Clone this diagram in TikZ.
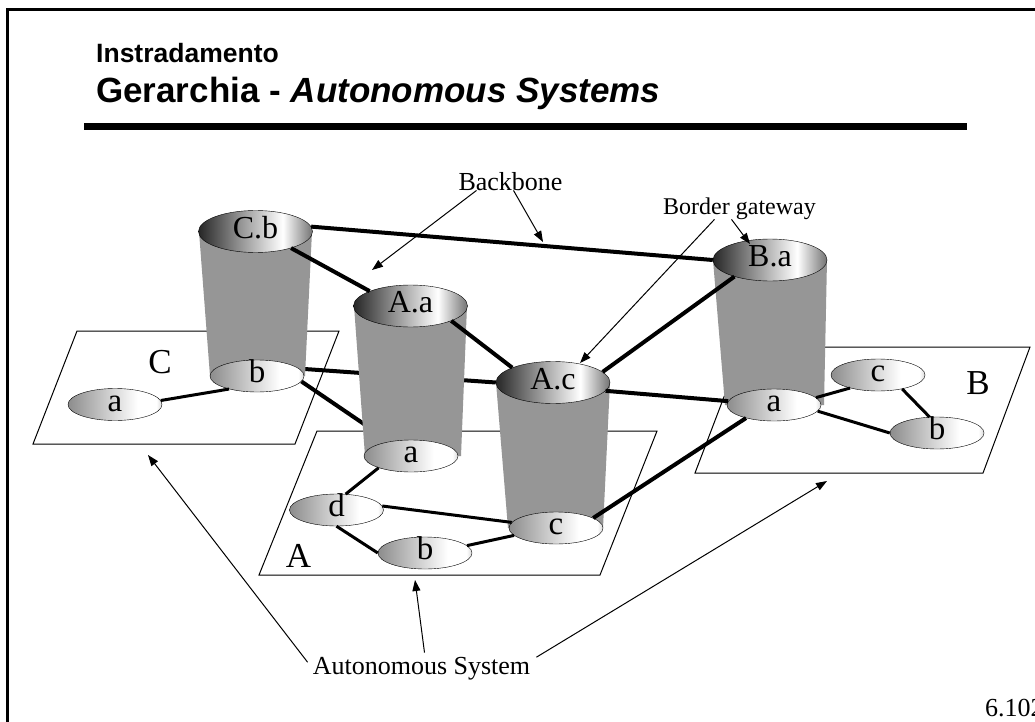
\documentclass[tikz,border=0pt]{standalone}
\usepackage{fontspec}
\setmainfont{Liberation Serif}
\newfontfamily\titlefont{Liberation Sans}
\usetikzlibrary{arrows.meta, shapes.geometric}

\definecolor{bodygray}{RGB}{150,150,150}
\pgfdeclarehorizontalshading{topshade}{100bp}{color(0bp)=(black!85); color(25bp)=(black!85); color(42bp)=(black!45); color(62bp)=(white); color(75bp)=(black!55); color(100bp)=(black!55)}
\pgfdeclarehorizontalshading{lowshade}{100bp}{color(0bp)=(black!45); color(25bp)=(black!45); color(62bp)=(white); color(72bp)=(white); color(75bp)=(black!15); color(100bp)=(black!15)}
\pgfdeclarelayer{planes}
\pgfdeclarelayer{hidden}
\pgfsetlayers{planes,hidden,main}

\begin{document}
\begin{tikzpicture}[x=1pt, y=-1pt,
        hubtop/.style={ellipse, draw, shade, shading=topshade,
                minimum width=114pt, minimum height=42pt, inner sep=0pt,
                text height=13pt, text depth=-13pt, font=\fontsize{32}{32}\selectfont},
        hub/.style={ellipse, draw, shade, shading=lowshade,
                minimum width=94pt, minimum height=32pt, inner sep=0pt,
                text height=13pt, text depth=-13pt, font=\fontsize{33}{33}\selectfont},
        plane/.style={draw, fill=white, line width=1pt},
        region/.style={inner sep=0pt, font=\fontsize{35}{35}\selectfont},
        link/.style={line width=4pt},
        lan/.style={line width=3pt},
        lbl/.style={inner sep=0pt, font=\fontsize{26}{26}\selectfont},
        arr/.style={-{Triangle[length=11pt,width=8pt]}, line width=1pt}]
    \useasboundingbox (0,0) rectangle (1035,722);
    % frame and title
    \draw[line width=3pt] (7.5,740) -- (7.5,9.5) -- (1050,9.5);
    \node[anchor=base west, inner sep=0pt,
          font=\titlefont\bfseries\fontsize{26.5}{26.5}\selectfont] (sect) at (96,63) {Instradamento};
    \node[anchor=base west, inner sep=0pt,
          font=\titlefont\bfseries\fontsize{35}{35}\selectfont] (title) at (96,103)
          {Gerarchia - \textit{Autonomous Systems}};
    \draw[line width=6.5pt] (84,126.5) -- (967,126.5);

    % the three autonomous systems
    \begin{pgfonlayer}{planes}
        \draw[plane] (77,331) -- (339,331) -- (295,444) -- (33,444) -- cycle;
        \draw[plane] (317,431) -- (657,431) -- (600,575) -- (259,575) -- cycle;
        \draw[plane] (743,347) -- (1030,347) -- (983,473) -- (695,473) -- cycle;
    \end{pgfonlayer}
    \node[region] (labC) at (160,362) {C};
    \node[region] (labA) at (298.5,556) {A};
    \node[region] (labB) at (978,383) {B};

    % cylinder bodies
    \fill[bodygray] (199,231.5) -- (312,231.5) -- (305,376) -- (210,376) -- cycle;
    \fill[bodygray] (354,306) -- (467,306) -- (461,456) -- (365,456) -- cycle;
    \fill[bodygray] (496,382.5) -- (610,382.5) -- (603,528) -- (508,528) -- cycle;
    \fill[bodygray] (713,260) -- (827,260) -- (824,405) -- (725,405) -- cycle;

    % gateways
    \node[hubtop] (CbTop) at (255.5,231.5) {C.b};
    \node[hubtop] (AaTop) at (410.5,306) {A.a};
    \node[hubtop] (AcTop) at (553,382.5) {A.c};
    \node[hubtop] (BaTop) at (770,260) {B.a};

    % routers
    \node[hub] (aC) at (115,404.5) {a};
    \node[hub] (bC) at (257,376) {b};
    \node[hub] (aA) at (411,456) {a};
    \node[hub] (dA) at (336.5,510) {d};
    \node[hub] (bA) at (425,553) {b};
    \node[hub] (cA) at (556,528) {c};
    \node[hub] (aB) at (774,405) {a};
    \node[hub] (cB) at (878,375) {c};
    \node[hub] (bB) at (937,433) {b};

    % backbone links
    \begin{pgfonlayer}{hidden}
        \draw[link] (bC.10) -- (AcTop.west);
        \draw[link] (bC.-7) -- (aA);
    \end{pgfonlayer}
    \draw[link] (CbTop.5) -- (BaTop.west);
    \draw[link] (CbTop.-25) -- (AaTop.160);
    \draw[link] (AaTop.-20) -- (AcTop.160);
    \draw[link] (AcTop.12) -- (BaTop.205);
    \draw[link] (AcTop.-9) -- (aB);
    \draw[link] (cA.15) -- (aB.205);

    % links inside each system
    \draw[lan] (aC.5) -- (bC.205);
    \draw[lan] (aA.200) -- (dA.60);
    \draw[lan] (dA.5) -- (cA);
    \draw[lan] (dA.south) -- (bA.west);
    \draw[lan] (bA.10) -- (cA.190);
    \draw[lan] (aB.10) -- (cB.205);
    \draw[lan] (cB.-30) -- (bB.115);
    \draw[lan] (aB.-8) -- (bB.west);

    % captions
    \node[lbl, anchor=base] (bbone) at (510.5,190) {Backbone};
    \coordinate (bbL) at (372,270);
    \coordinate (bbR) at (543,242);
    \draw[arr] ([xshift=-34pt]bbone.south) -- (bbL);
    \draw[arr] ([xshift=3pt]bbone.south) -- (bbR);

    \node[lbl, anchor=base, font=\fontsize{24}{24}\selectfont] (bgw) at (739.5,214) {Border gateway};
    \coordinate (bgL) at (580,363);
    \coordinate (bgR) at (750,244);
    \draw[arr] ([xshift=-25pt]bgw.south) -- (bgL);
    \draw[arr] ([xshift=-8pt]bgw.south) -- (bgR);

    \node[lbl, anchor=base] (asys) at (421.5,674) {Autonomous System};
    \coordinate (asC) at (148,455);
    \coordinate (asA) at (415,580);
    \coordinate (asB) at (827,481);
    \draw[arr] ([xshift=-5pt,yshift=6pt]asys.west) -- (asC);
    \draw[arr] ([xshift=3pt,yshift=4pt]asys.north) -- (asA);
    \draw[arr] ([xshift=6pt,yshift=11pt]asys.east) -- (asB);

    \node[lbl, anchor=base west] (pgno) at (985,716) {6.102};
\end{tikzpicture}
\end{document}
